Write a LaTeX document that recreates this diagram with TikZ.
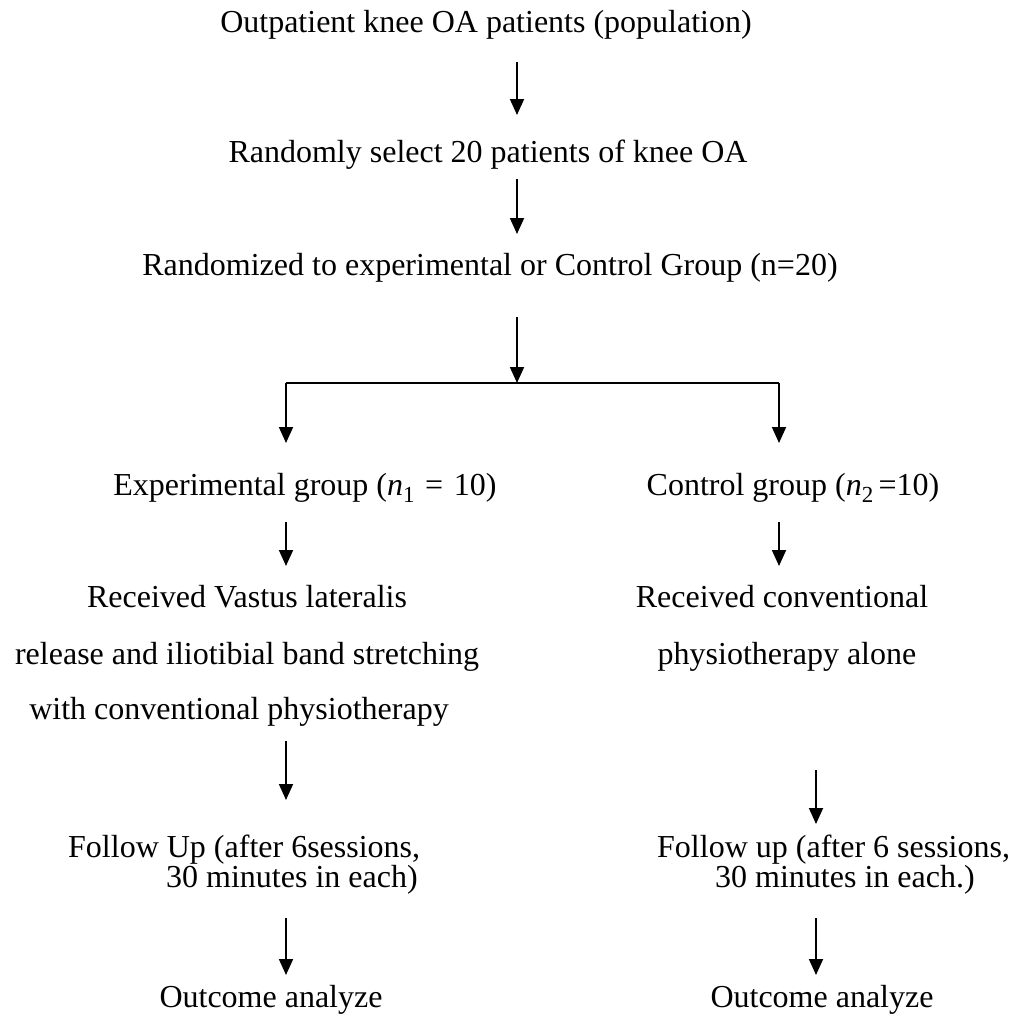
\documentclass[tikz,border=0pt]{standalone}
\usepackage{fontspec}
\setmainfont{Liberation Serif}
\usetikzlibrary{arrows.meta}
\newcommand{\lowsub}[1]{\raisebox{-0.22em}{\fontsize{23}{23}\selectfont #1}}
\begin{document}
\begin{tikzpicture}[x=1pt,y=-1pt,
  txt/.style={inner sep=0pt,font=\fontsize{32}{38}\selectfont,text height=22pt,text depth=7pt},
  arr/.style={line width=1.8pt,-{Triangle[length=16pt,width=14pt]}},
  ln/.style={line width=1.8pt}]
\useasboundingbox (0,0) rectangle (1014,1021);
% texts
\node[txt] (t1) at (486,25) {Outpatient knee OA patients (population)};
\node[txt] (t2) at (488,155) {Randomly select 20 patients of knee OA};
\node[txt] (t3) at (490,268) {Randomized to experimental or Control Group (n=20)};
\node[txt] (t4) at (305,488) {Experimental group (\textit{n}\lowsub{1}\,\,=\,\,10)};
\node[txt] (t5) at (793,488) {Control group (\textit{n}\lowsub{2}\,=10)};
\node[txt] (l1) at (247,600) {Received Vastus lateralis};
\node[txt] (l2) at (247,657) {release and iliotibial band stretching};
\node[txt] (l3) at (239,712) {with conventional physiotherapy};
\node[txt] (r1) at (782,600) {Received conventional};
\node[txt] (r2) at (787,657) {physiotherapy alone};
\node[txt,anchor=west] (lf1) at (68,850) {Follow Up (after 6sessions,};
\node[txt,anchor=west] (lf2) at (166,880) {30 minutes in each)};
\node[txt,anchor=west] (rf1) at (657,850) {Follow up (after 6 sessions,};
\node[txt,anchor=west] (rf2) at (715,880) {30 minutes in each.)};
\node[txt] (lo) at (271,1000) {Outcome analyze};
\node[txt] (ro) at (822,1000) {Outcome analyze};
% arrow end coordinates
\coordinate (a1s) at (517,62);  \coordinate (a1e) at (517,115);
\coordinate (a2s) at (517,179); \coordinate (a2e) at (517,234);
\coordinate (a3s) at (517,317); \coordinate (a3e) at (517,383);
\coordinate (bl) at (286,383);  \coordinate (br) at (779,383);
\coordinate (ble) at (286,443); \coordinate (bre) at (779,443);
\coordinate (a4s) at (286,522); \coordinate (a4e) at (286,566);
\coordinate (a5s) at (779,522); \coordinate (a5e) at (779,566);
\coordinate (a6s) at (286,741); \coordinate (a6e) at (286,800);
\coordinate (a7s) at (816,770); \coordinate (a7e) at (816,824);
\coordinate (a8s) at (286,918); \coordinate (a8e) at (286,975);
\coordinate (a9s) at (816,918); \coordinate (a9e) at (816,975);
% connectors
\draw[arr] (a1s) -- (a1e);
\draw[arr] (a2s) -- (a2e);
\draw[arr] (a3s) -- (a3e);
\draw[ln] (bl) -- (br);
\draw[arr] (bl) -- (ble);
\draw[arr] (br) -- (bre);
\draw[arr] (a4s) -- (a4e);
\draw[arr] (a5s) -- (a5e);
\draw[arr] (a6s) -- (a6e);
\draw[arr] (a7s) -- (a7e);
\draw[arr] (a8s) -- (a8e);
\draw[arr] (a9s) -- (a9e);
\end{tikzpicture}
\end{document}
